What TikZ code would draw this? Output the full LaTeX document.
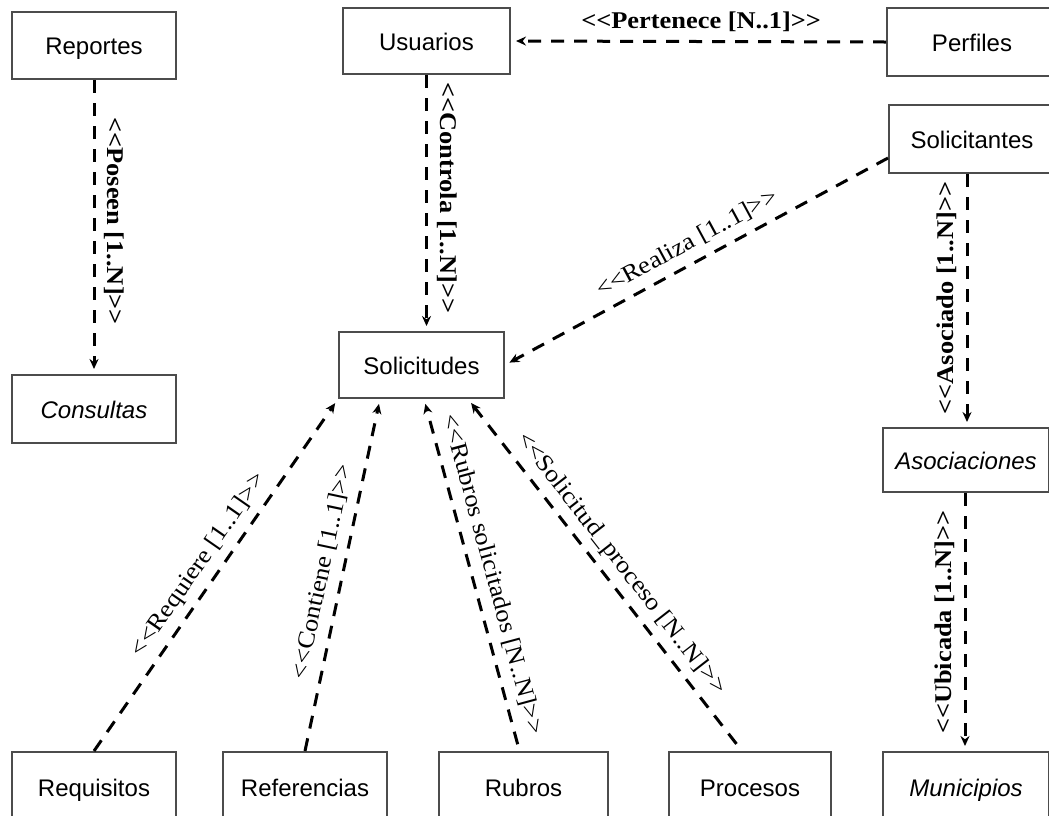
\documentclass[tikz,border=0pt]{standalone}
\usepackage{fontspec}
\setmainfont{Liberation Sans}
\newfontfamily\lblfont{Liberation Serif}[FakeStretch=1.1]
\usetikzlibrary{arrows.meta}
\newcommand\myll{<\kern0pt<}
\newcommand\mygg{>\kern0pt>}
\begin{document}
\begin{tikzpicture}[x=1pt,y=-1pt,
  box/.style={draw=black!70, line width=2pt, fill=white, inner sep=0pt, text height=18pt, text depth=0pt, font=\fontsize{24}{28}\selectfont},
  conn/.style={line width=3pt, dash pattern=on 13pt off 10pt, shorten >=5pt, -{Stealth[length=10pt,width=9pt]}},
  lbl/.style={font=\lblfont\fontsize{24}{24}\selectfont, inner sep=7pt, text height=17pt, text depth=5pt},
  blbl/.style={lbl, font=\lblfont\bfseries\fontsize{24}{24}\selectfont}]
\useasboundingbox (0,0) rectangle (1049,815);
\clip (0,0) rectangle (1049,815);
\fill[white] (0,0) rectangle (1049,815);
% boxes
\node[box, minimum width=164pt, minimum height=67pt] (rep) at (94,45.5) {Reportes};
\node[box, minimum width=167pt, minimum height=66pt] (usu) at (426.5,41) {Usuarios};
\node[box, minimum width=170pt, minimum height=68pt] (per) at (972,42) {Perfiles};
\node[box, minimum width=166pt, minimum height=68pt] (sol) at (972,139) {Solicitantes};
\node[box, minimum width=165pt, minimum height=66pt] (sud) at (421.5,365) {Solicitudes};
\node[box, minimum width=164pt, minimum height=68pt] (con) at (94,409) {\itshape Consultas};
\node[box, minimum width=166pt, minimum height=64pt] (aso) at (966,460) {\itshape Asociaciones};
\node[box, minimum width=166pt, minimum height=70pt] (mun) at (966,787) {\itshape Municipios};
\node[box, minimum width=164pt, minimum height=70pt] (req) at (94,787) {Requisitos};
\node[box, minimum width=164pt, minimum height=70pt] (ref) at (305,787) {Referencias};
\node[box, minimum width=169pt, minimum height=70pt] (rub) at (523.5,787) {Rubros};
\node[box, minimum width=162pt, minimum height=70pt] (pro) at (750,787) {Procesos};
% helper coordinates
\coordinate (a1) at ([xshift=-5pt]sol.south);
\coordinate (a2) at ([xshift=-1pt]aso.south);
\coordinate (s1) at ([yshift=-19pt]sol.west);
\coordinate (rb) at ([xshift=-4pt]rub.north);
\coordinate (pb) at ([xshift=-8pt]pro.north);
\coordinate (t1) at ([xshift=-41.5pt]sud.south);
\coordinate (t2) at ([xshift=2.5pt]sud.south);
\coordinate (t3) at ([xshift=46.5pt]sud.south);
% connectors
\draw[conn] (rep.south) -- (con.north)
  node[blbl, pos=0.48, rotate=-90, above] {\myll Poseen [1..N]\mygg};
\draw[conn] (usu.south) -- (usu.south |- sud.north)
  node[blbl, pos=0.48, rotate=-90, above] {\myll Controla [1..N]\mygg};
\draw[conn] (per.west) -- (usu.east)
  node[blbl, pos=0.493, above] {\myll Pertenece [N..1]\mygg};
\draw[conn] (s1) -- (sud.east)
  node[lbl, pos=0.5, sloped, above] {\myll Realiza [1..1]\mygg};
\draw[conn] (a1) -- (a1 |- aso.north)
  node[blbl, pos=0.49, rotate=90, above] {\myll Asociado [1..N]\mygg};
\draw[conn] (a2) -- (a2 |- mun.north)
  node[blbl, pos=0.5, rotate=90, above] {\myll Ubicada [1..N]\mygg};
\draw[conn] (req.north) -- (sud.south west)
  node[lbl, pos=0.497, sloped, above] {\myll Requiere [1..1]\mygg};
\draw[conn] (ref.north) -- (t1)
  node[lbl, pos=0.4975, sloped, above] {\myll Contiene [1..1]\mygg};
\draw[conn, shorten <=7pt] (rb) -- (t2)
  node[lbl, pos=0.487, sloped, above] {\myll Rubros solicitados [N..N]\mygg};
\draw[conn, shorten <=9pt] (pb) -- (t3)
  node[lbl, pos=0.4975, sloped, above] {\myll Solicitud\_proceso [N..N]\mygg};
\end{tikzpicture}
\end{document}
